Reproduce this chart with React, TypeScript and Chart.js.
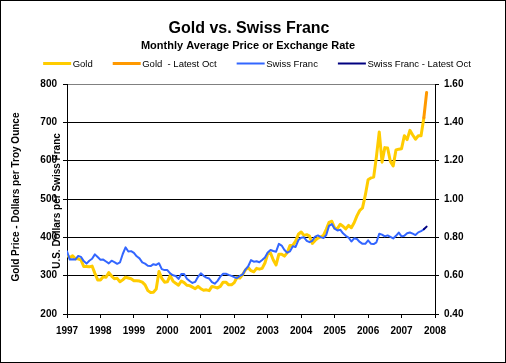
import React, { useEffect, useRef } from "react";
import { Chart, registerables } from "chart.js";

Chart.register(...registerables);

const FONT = "Arial, 'Liberation Sans', Helvetica, sans-serif";

const TITLE = "Gold vs. Swiss Franc";
const SUBTITLE = "Monthly Average Price or Exchange Rate";
const LEFT_AXIS_TITLE = "Gold Price - Dollars per Troy Ounce";
const RIGHT_AXIS_TITLE = "U.S. Dollars per Swiss Franc";

const START_YEAR = 1997;
const YEAR_TICKS = [1997, 1998, 1999, 2000, 2001, 2002, 2003, 2004, 2005, 2006, 2007, 2008];
const GOLD_TICKS = [200, 300, 400, 500, 600, 700, 800];
const CHF_TICKS = [0.4, 0.6, 0.8, 1.0, 1.2, 1.4, 1.6];

// Monthly averages, Jan 1997 .. Sep 2007
const goldMonthly = [
  354, 347, 352, 344, 344, 341, 324, 324, 323, 325, 306, 289,
  289, 297, 296, 308, 299, 292, 293, 284, 289, 296, 294, 292,
  287, 287, 286, 283, 276, 261, 256, 257, 265, 311, 293, 283,
  284, 300, 286, 280, 275, 286, 282, 275, 274, 270, 266, 272,
  266, 262, 263, 261, 272, 270, 268, 272, 283, 283, 276, 276,
  282, 296, 294, 303, 315, 321, 313, 310, 319, 317, 319, 333,
  357, 359, 341, 328, 356, 356, 351, 360, 379, 379, 390, 408,
  414, 405, 407, 403, 384, 392, 398, 401, 405, 421, 439, 442,
  424, 423, 434, 429, 422, 431, 425, 438, 456, 470, 477, 510,
  550, 555, 557, 611, 675, 596, 634, 633, 598, 586, 628, 630,
  631, 665, 655, 679, 667, 656, 665, 665, 712,
];

const chfMonthly = [
  0.727, 0.684, 0.686, 0.684, 0.703, 0.698, 0.676, 0.663, 0.678, 0.688, 0.711, 0.697,
  0.683, 0.684, 0.674, 0.664, 0.678, 0.671, 0.662, 0.669, 0.713, 0.748, 0.726, 0.728,
  0.719, 0.701, 0.690, 0.669, 0.663, 0.652, 0.650, 0.660, 0.656, 0.665, 0.634, 0.629,
  0.629, 0.612, 0.602, 0.598, 0.583, 0.609, 0.609, 0.584, 0.572, 0.562, 0.568, 0.594,
  0.612, 0.599, 0.590, 0.585, 0.566, 0.558, 0.573, 0.595, 0.610, 0.610, 0.604, 0.599,
  0.592, 0.588, 0.599, 0.606, 0.632, 0.649, 0.681, 0.673, 0.675, 0.670, 0.682, 0.695,
  0.721, 0.734, 0.729, 0.725, 0.766, 0.757, 0.734, 0.720, 0.727, 0.753, 0.750, 0.786,
  0.798, 0.800, 0.782, 0.775, 0.782, 0.804, 0.810, 0.801, 0.796, 0.812, 0.860, 0.869,
  0.845, 0.836, 0.840, 0.821, 0.808, 0.799, 0.778, 0.795, 0.791, 0.776, 0.766, 0.766,
  0.784, 0.767, 0.765, 0.774, 0.819, 0.814, 0.805, 0.810, 0.802, 0.794, 0.808, 0.825,
  0.805, 0.808, 0.821, 0.825, 0.819, 0.812, 0.826, 0.832, 0.842,
];

// Latest segment: Sep 2007 -> latest October value
const LATEST_START_MONTH = 128;
const goldLatest = [712, 778];
const chfLatest = [0.842, 0.856];

const monthX = (i: number) => START_YEAR + i / 12;
const toPoints = (vals: number[], offset = 0) =>
  vals.map((y, i) => ({ x: monthX(i + offset), y }));

const decorPlugin = {
  id: "decor",
  afterDraw(chart: any) {
    const ctx: CanvasRenderingContext2D = chart.ctx;
    ctx.save();
    ctx.fillStyle = "#000";
    ctx.textAlign = "center";
    ctx.textBaseline = "alphabetic";
    ctx.font = `bold 16px ${FONT}`;
    ctx.fillText(TITLE, 249, 33);
    ctx.font = `bold 11px ${FONT}`;
    ctx.fillText(SUBTITLE, 248, 48.5);

    // legend
    ctx.font = `9.5px ${FONT}`;
    ctx.textAlign = "left";
    const items = chart.data.datasets.map((ds: any) => ({
      label: ds.label,
      color: ds.borderColor,
      width: ds.borderWidth,
    }));
    const lineLen = 28;
    const gapText = 1.5;
    const gapItem = 20;
    const widths = items.map(
      (it: any) => lineLen + gapText + ctx.measureText(it.label).width
    );
    const total =
      widths.reduce((a: number, b: number) => a + b, 0) + gapItem * (items.length - 1);
    let x = 257 - total / 2;
    const ly = 63.5;
    items.forEach((it: any, i: number) => {
      ctx.strokeStyle = it.color;
      ctx.lineWidth = it.width;
      ctx.beginPath();
      ctx.moveTo(x, ly);
      ctx.lineTo(x + lineLen, ly);
      ctx.stroke();
      ctx.fillStyle = "#000";
      ctx.fillText(it.label, x + lineLen + gapText, 67);
      x += widths[i] + gapItem;
    });

    // axis titles
    ctx.font = `bold 10px ${FONT}`;
    ctx.textAlign = "center";
    ctx.textBaseline = "middle";
    ctx.save();
    ctx.translate(16.5, 197);
    ctx.rotate(-Math.PI / 2);
    ctx.fillText(LEFT_AXIS_TITLE, 0, 0);
    ctx.restore();
    ctx.save();
    ctx.translate(57.5, 201);
    ctx.rotate(-Math.PI / 2);
    ctx.fillText(RIGHT_AXIS_TITLE, 0, 0);
    ctx.restore();

    // outer border
    ctx.strokeStyle = "#000";
    ctx.lineWidth = 1;
    ctx.strokeRect(0.5, 0.5, chart.width - 1, chart.height - 1);
    ctx.restore();
  },
};

export default function App() {
  const ref = useRef<HTMLCanvasElement>(null);
  useEffect(() => {
    document.body.style.margin = "0";
    const tickFont = { family: FONT, size: 10, weight: "bold" as const };
    const lineCommon = {
      pointRadius: 0,
      tension: 0,
      borderJoinStyle: "round" as const,
      borderCapStyle: "round" as const,
    };
    const chart = new Chart(ref.current!, {
      type: "line",
      data: {
        datasets: [
          {
            label: "Gold",
            data: toPoints(goldMonthly),
            yAxisID: "y",
            borderColor: "#FFCC00",
            borderWidth: 3,
            order: 3,
            ...lineCommon,
          },
          {
            label: "Gold  - Latest Oct",
            data: toPoints(goldLatest, LATEST_START_MONTH),
            yAxisID: "y",
            borderColor: "#FF9900",
            borderWidth: 3,
            order: 2,
            ...lineCommon,
          },
          {
            label: "Swiss Franc",
            data: toPoints(chfMonthly),
            yAxisID: "y1",
            borderColor: "#3366FF",
            borderWidth: 2,
            order: 1,
            ...lineCommon,
          },
          {
            label: "Swiss Franc - Latest Oct",
            data: toPoints(chfLatest, LATEST_START_MONTH),
            yAxisID: "y1",
            borderColor: "#000080",
            borderWidth: 2,
            order: 0,
            ...lineCommon,
          },
        ],
      },
      options: {
        responsive: false,
        animation: false,
        devicePixelRatio: 1,
        layout: { padding: { top: 84, left: 0, right: 0, bottom: 0 } },
        plugins: {
          legend: { display: false },
          title: { display: false },
          tooltip: { enabled: false },
        },
        scales: {
          x: {
            type: "linear",
            position: "bottom",
            min: YEAR_TICKS[0],
            max: YEAR_TICKS[YEAR_TICKS.length - 1],
            afterBuildTicks: (s: any) => {
              s.ticks = YEAR_TICKS.map((v) => ({ value: v }));
            },
            afterFit: (s: any) => {
              s.height = 49;
            },
            ticks: {
              callback: (v: any) => String(v),
              font: tickFont,
              color: "#000",
              padding: 7,
              maxRotation: 0,
              autoSkip: false,
            },
            grid: { drawOnChartArea: false, tickLength: 4, tickColor: "#000" },
            border: { display: true, color: "#000", width: 1 },
          },
          y: {
            type: "linear",
            position: "left",
            min: GOLD_TICKS[0],
            max: GOLD_TICKS[GOLD_TICKS.length - 1],
            afterBuildTicks: (s: any) => {
              s.ticks = GOLD_TICKS.map((v) => ({ value: v }));
            },
            afterFit: (s: any) => {
              s.width = 67;
            },
            ticks: { font: tickFont, color: "#000", padding: 6 },
            grid: {
              color: (c: any) => (c.tick && c.tick.value === 800 ? "#808080" : "#000"),
              tickColor: "#000",
              tickLength: 4,
              lineWidth: 1,
            },
            border: { display: true, color: "#000", width: 1 },
          },
          y1: {
            type: "linear",
            position: "right",
            min: CHF_TICKS[0],
            max: CHF_TICKS[CHF_TICKS.length - 1],
            afterBuildTicks: (s: any) => {
              s.ticks = CHF_TICKS.map((v) => ({ value: v }));
            },
            afterFit: (s: any) => {
              s.width = 71;
            },
            ticks: {
              font: tickFont,
              color: "#000",
              padding: 5,
              callback: (v: any) => Number(v).toFixed(2),
            },
            grid: { drawOnChartArea: false, tickColor: "#000", tickLength: 4 },
            border: { display: true, color: "#000", width: 1 },
          },
        },
      },
      plugins: [decorPlugin],
    });
    return () => chart.destroy();
  }, []);
  return (
    <div style={{ width: 506, height: 363 }}>
      <canvas ref={ref} width={506} height={363} style={{ display: "block" }} />
    </div>
  );
}
